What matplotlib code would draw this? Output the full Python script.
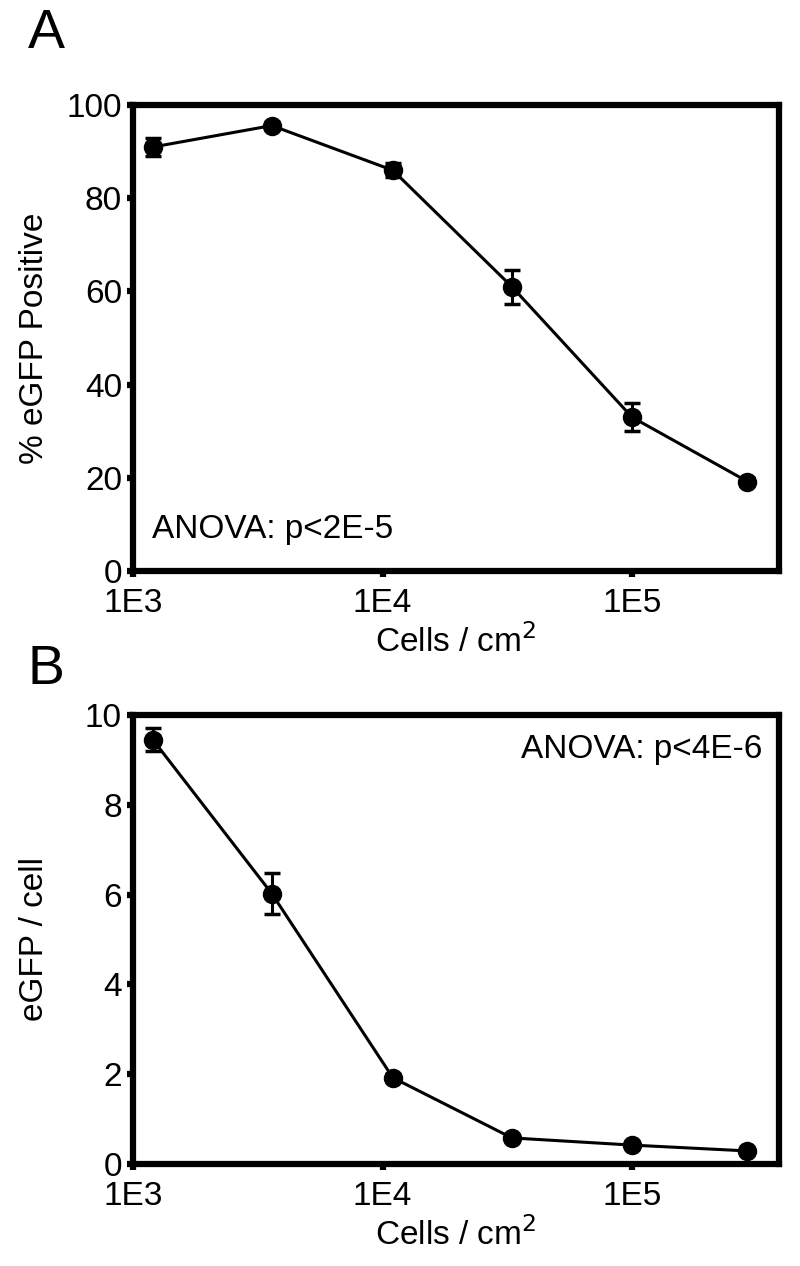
import numpy as np
import matplotlib.pyplot as plt
from matplotlib.ticker import FixedLocator, NullLocator

plt.rcParams['font.family'] = ['Liberation Sans', 'DejaVu Sans']

# ── Data ───────────────────────────────────────────────────────────────────
density = [1.2e3, 3.6e3, 1.1e4, 3.3e4, 1.0e5, 2.9e5]

pct_pos = [91.0, 95.6, 86.0, 61.0, 33.0, 19.2]
pct_err = [2.0, 0.8, 1.5, 3.6, 3.0, 0.8]

gfp_cell = [9.45, 6.02, 1.92, 0.58, 0.42, 0.29]
gfp_err = [0.25, 0.45, 0.08, 0.05, 0.05, 0.04]

x_ticks = [1e3, 1e4, 1e5]
x_tick_labels = ["1E3", "1E4", "1E5"]

# ── Figure ─────────────────────────────────────────────────────────────────
fig = plt.figure(figsize=(8, 12.66), dpi=100)
ax1 = fig.add_axes([0.16625, 0.549, 0.8075, 0.368])
ax2 = fig.add_axes([0.16625, 0.0806, 0.8075, 0.3547])


def style(ax, y, yerr, ylim, yticks, ylabel):
    ax.errorbar(density, y, yerr=yerr, color='black', lw=2.2, marker='o',
                ms=13, capsize=6, capthick=2.5, elinewidth=2.2)
    ax.set_xscale('log')
    ax.set_xlim(1e3, 3.88e5)
    ax.set_ylim(*ylim)
    ax.xaxis.set_major_locator(FixedLocator(x_ticks))
    ax.xaxis.set_minor_locator(NullLocator())
    ax.set_xticklabels(x_tick_labels)
    ax.set_yticks(yticks)
    for sp in ax.spines.values():
        sp.set_linewidth(4.5)
    ax.tick_params(direction='out', length=4, width=4.5, labelsize=24)
    ax.tick_params(axis='x', pad=8)
    ax.tick_params(axis='y', pad=4)
    ax.set_xlabel("Cells / cm$^2$", fontsize=24, labelpad=4)
    ax.set_ylabel(ylabel, fontsize=24)
    ax.yaxis.set_label_coords(-0.128, 0.5)


style(ax1, pct_pos, pct_err, (0, 100), [0, 20, 40, 60, 80, 100],
      "% eGFP Positive")
style(ax2, gfp_cell, gfp_err, (0, 10), [0, 2, 4, 6, 8, 10], "eGFP / cell")

ax1.text(0.03, 0.07, "ANOVA: p<2E-5", transform=ax1.transAxes,
         fontsize=24, ha='left', va='baseline')
ax2.text(0.975, 0.905, "ANOVA: p<4E-6", transform=ax2.transAxes,
         fontsize=24, ha='right', va='baseline')

fig.text(0.035, 0.962, "A", fontsize=40, ha='left', va='baseline')
fig.text(0.035, 0.46, "B", fontsize=40, ha='left', va='baseline')

fig.savefig("out.png", dpi=100)
